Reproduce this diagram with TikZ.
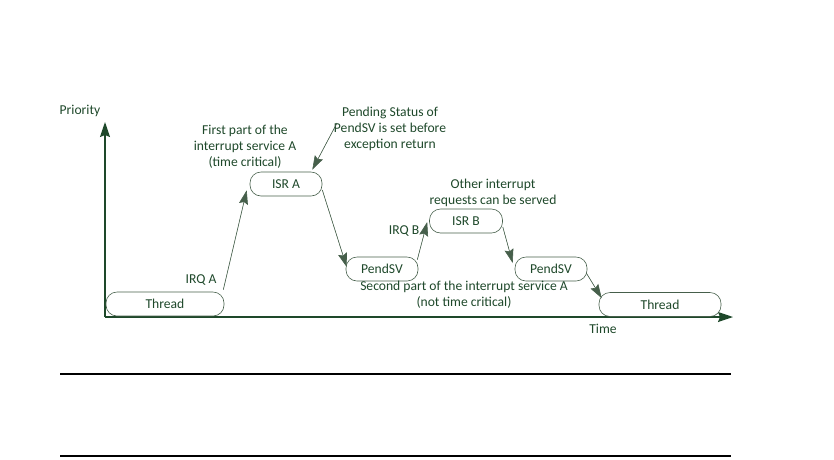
\documentclass[tikz,border=0pt]{standalone}
\usepackage{fontspec}
\setmainfont{Carlito}
\usetikzlibrary{arrows.meta}
\definecolor{dg}{RGB}{30,72,42}
\definecolor{lg}{RGB}{70,95,75}
\tikzset{
  pill/.style={draw=lg, line width=0.6pt, rounded corners=11pt, minimum height=24pt, inner sep=0pt, text=dg, font=\fontsize{13.6}{16}\selectfont},
  lbl/.style={text=dg, font=\fontsize{13.6}{16}\selectfont, align=center, inner sep=0pt},
  tip/.style={-{Stealth[length=14pt,width=9pt,inset=2pt]}},
  conn/.style={tip, draw=lg, line width=0.6pt, fill=dg},
  axis/.style={-{Stealth[length=15pt,width=10pt,inset=2pt]}, draw=dg, line width=1.4pt},
  rule/.style={draw=black, line width=2pt}
}
\begin{document}
\begin{tikzpicture}[x=1pt,y=-1pt]
\useasboundingbox (0,0) rectangle (834,459);
% axes
\coordinate (origin) at (105,317);
\coordinate (ytip) at (105,122);
\coordinate (xtip) at (733,317);
\draw[axis] (origin) -- (ytip);
\draw[axis] (origin) -- (xtip);
\node[lbl] (prio) at (80,111) {Priority};
\node[lbl] (time) at (603,329) {Time};
% states
\node[pill, minimum width=118pt] (thread1) at (165,304) {Thread};
\node[pill, minimum width=72pt] (isrA) at (286,184) {ISR A};
\node[pill, minimum width=72pt] (pend1) at (382,269) {PendSV};
\node[pill, minimum width=73pt] (isrB) at (466,221) {ISR B};
\node[pill, minimum width=72pt] (pend2) at (551,269) {PendSV};
\node[pill, minimum width=122pt] (thread2) at (660,304.5) {Thread};
% labels
\node[lbl] (first) at (245,147) {First part of the\\interrupt service A\\(time critical)};
\node[lbl] (pending) at (390,129) {Pending Status of\\PendSV is set before\\exception return};
\node[lbl] (irqa) at (201,280) {IRQ A};
\node[lbl] (irqb) at (404,231) {IRQ B};
\node[lbl] (other) at (493,193) {Other interrupt\\requests can be served};
\node[lbl] (second) at (464,295) {Second part of the interrupt service A\\(not time critical)};
% connectors
\draw[conn] ([shift={(-1,-2)}]thread1.north east) -- ([shift={(-3,-6)}]isrA.south west);
\draw[conn] ([shift={(0,6)}]isrA.east) -- ([shift={(1,-2)}]pend1.west);
\draw[conn] ([shift={(-1,3)}]pend1.north east) -- ([shift={(-2,1)}]isrB.west);
\draw[conn] ([shift={(0,6)}]isrB.east) -- ([shift={(-2,-6)}]pend2.west);
\draw[conn] ([shift={(-1,4)}]pend2.east) -- ([shift={(3,6)}]thread2.north west);
\coordinate (pendtail) at (337,123);
\draw[conn] (pendtail) -- ([shift={(-10,-2)}]isrA.north east);
% rules
\coordinate (r1a) at (60,374);
\coordinate (r1b) at (731,374);
\coordinate (r2a) at (60,456);
\coordinate (r2b) at (731,456);
\draw[rule] (r1a) -- (r1b);
\draw[rule] (r2a) -- (r2b);
\end{tikzpicture}
\end{document}
